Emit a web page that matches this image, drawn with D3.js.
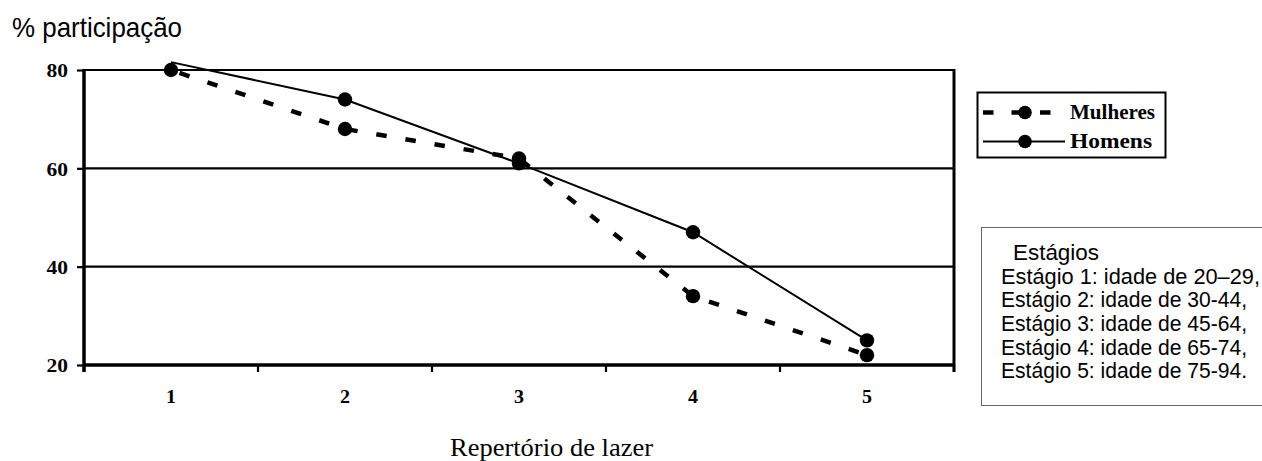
<!DOCTYPE html>
<html>
<head>
<meta charset="utf-8">
<script src="https://cdn.jsdelivr.net/npm/d3@7"></script>
<style>
  html, body { margin: 0; padding: 0; background: #fff; }
  svg { display: block; }
  .serif { font-family: "Liberation Serif", "Times New Roman", serif; }
  .sans { font-family: "Liberation Sans", Arial, sans-serif; }
</style>
</head>
<body>
<svg id="chart" width="1262" height="461"></svg>
<script>
// Participation (%) by leisure repertoire stage
const categories = ["1", "2", "3", "4", "5"];
const mulheres = [80, 68, 62, 34, 22];
const homens = [81.6, 74, 61, 47, 25];
const yTicks = [20, 40, 60, 80];
const seriesNames = ["Mulheres", "Homens"];
const stageTitle = "Estágios";
const stageLines = [
  "Estágio 1: idade de 20–29,",
  "Estágio 2: idade de 30-44,",
  "Estágio 3: idade de 45-64,",
  "Estágio 4: idade de 65-74,",
  "Estágio 5: idade de 75-94."
];

const svg = d3.select("#chart");

const plot = { left: 84, right: 954, top: 70, bottom: 365 };

const x = d3.scaleBand().domain(categories).range([plot.left, plot.right]).padding(0);
const y = d3.scaleLinear().domain([20, 80]).range([plot.bottom, plot.top]);
const cx = c => x(c) + x.bandwidth() / 2;

// y-axis title
svg.append("text").attr("class", "sans")
  .attr("x", 12).attr("y", 37)
  .attr("font-size", 28)
  .attr("textLength", 170).attr("lengthAdjust", "spacingAndGlyphs")
  .text("% participação");

// horizontal gridlines
svg.append("g").selectAll("line")
  .data(yTicks.filter(v => v !== y.domain()[0]))
  .join("line")
  .attr("x1", plot.left).attr("x2", plot.right)
  .attr("y1", d => y(d)).attr("y2", d => y(d))
  .attr("stroke", "#000").attr("stroke-width", 2.2);

// right border
svg.append("line")
  .attr("x1", plot.right).attr("x2", plot.right)
  .attr("y1", plot.top - 1).attr("y2", plot.bottom + 7)
  .attr("stroke", "#000").attr("stroke-width", 3);

// y axis
const yAxis = svg.append("g")
  .attr("transform", `translate(${plot.left},0)`)
  .call(d3.axisLeft(y).tickValues(yTicks).tickSize(7).tickPadding(9));
yAxis.select(".domain").attr("stroke-width", 3.5).attr("d", `M0,${plot.top - 1}V${plot.bottom + 7}`);
yAxis.selectAll(".tick line").attr("stroke-width", 2.2);
yAxis.selectAll(".tick text")
  .attr("class", "serif")
  .attr("font-size", 19).attr("font-weight", "bold")
  .attr("fill", "#000")
  .attr("dy", "0.36em")
  .attr("textLength", 21.5).attr("lengthAdjust", "spacingAndGlyphs");

// x axis baseline and ticks at band edges
const xEdges = categories.map(c => x(c)).concat([x.range()[1]]);
svg.append("line")
  .attr("x1", plot.left - 1).attr("x2", plot.right + 1)
  .attr("y1", plot.bottom).attr("y2", plot.bottom)
  .attr("stroke", "#000").attr("stroke-width", 3.5);
svg.append("g").selectAll("line")
  .data(xEdges)
  .join("line")
  .attr("x1", d => d).attr("x2", d => d)
  .attr("y1", plot.bottom).attr("y2", plot.bottom + 7)
  .attr("stroke", "#000").attr("stroke-width", 2.2);
svg.append("g").selectAll("text")
  .data(categories)
  .join("text")
  .attr("class", "serif")
  .attr("x", d => cx(d)).attr("y", plot.bottom + 38)
  .attr("text-anchor", "middle")
  .attr("font-size", 19).attr("font-weight", "bold")
  .attr("textLength", 10).attr("lengthAdjust", "spacingAndGlyphs")
  .text(d => d);

// x-axis title
svg.append("text").attr("class", "serif")
  .attr("x", 450).attr("y", 456)
  .attr("font-size", 26)
  .attr("textLength", 203).attr("lengthAdjust", "spacingAndGlyphs")
  .text("Repertório de lazer");

// series
const line = d3.line().x((d, i) => cx(categories[i])).y(d => y(d));
const series = [
  { name: seriesNames[0], values: mulheres, dash: "10.5,19", width: 4.5 },
  { name: seriesNames[1], values: homens, dash: null, width: 2 }
];

svg.append("path").datum(homens)
  .attr("d", line).attr("fill", "none")
  .attr("stroke", "#000").attr("stroke-width", 2);
svg.append("path").datum(mulheres)
  .attr("d", line).attr("fill", "none")
  .attr("stroke", "#000").attr("stroke-width", 4.5)
  .attr("stroke-dasharray", "10.5,19").attr("stroke-dashoffset", -9);

// markers (values above the axis maximum are not marked)
series.forEach(s => {
  svg.append("g").selectAll("circle")
    .data(s.values.map((v, i) => ({ v, c: categories[i] })).filter(d => d.v <= y.domain()[1]))
    .join("circle")
    .attr("cx", d => cx(d.c)).attr("cy", d => y(d.v))
    .attr("r", 7.2).attr("fill", "#000");
});

// legend
const lg = svg.append("g");
lg.append("rect")
  .attr("x", 977.5).attr("y", 92.5).attr("width", 188).attr("height", 65)
  .attr("fill", "#fff").attr("stroke", "#000").attr("stroke-width", 2);
const legendRows = [
  { s: series[0], y: 112.5 },
  { s: series[1], y: 141.5 }
];
legendRows.forEach(r => {
  lg.append("line")
    .attr("x1", 983).attr("x2", 1065)
    .attr("y1", r.y).attr("y2", r.y)
    .attr("stroke", "#000").attr("stroke-width", r.s.width)
    .attr("stroke-dasharray", r.s.dash ? "10.5,18" : null)
    .attr("stroke-dashoffset", r.s.dash ? 0 : null);
  lg.append("circle").attr("cx", 1025).attr("cy", r.y).attr("r", 6.8).attr("fill", "#000");
  lg.append("text").attr("class", "serif")
    .attr("x", 1070).attr("y", r.y + 6.5)
    .attr("font-size", 20).attr("font-weight", "bold")
    .attr("textLength", r.s.name === "Mulheres" ? 85 : 82).attr("lengthAdjust", "spacingAndGlyphs")
    .text(r.s.name);
});

// stage description box
const sb = svg.append("g");
sb.append("rect")
  .attr("x", 981.5).attr("y", 227.5).attr("width", 290).attr("height", 178)
  .attr("fill", "#fff").attr("stroke", "#666").attr("stroke-width", 1);
sb.append("text").attr("class", "sans")
  .attr("x", 1013).attr("y", 259.5)
  .attr("font-size", 21.5)
  .attr("textLength", 86).attr("lengthAdjust", "spacingAndGlyphs")
  .text(stageTitle);
sb.selectAll("text.stage")
  .data(stageLines)
  .join("text")
  .attr("class", "sans stage")
  .attr("x", 1001).attr("y", (d, i) => 283.5 + i * 23.7)
  .attr("font-size", 21.5)
  .attr("textLength", (d, i) => i === 0 ? 259 : 246).attr("lengthAdjust", "spacingAndGlyphs")
  .text(d => d);
</script>
</body>
</html>
